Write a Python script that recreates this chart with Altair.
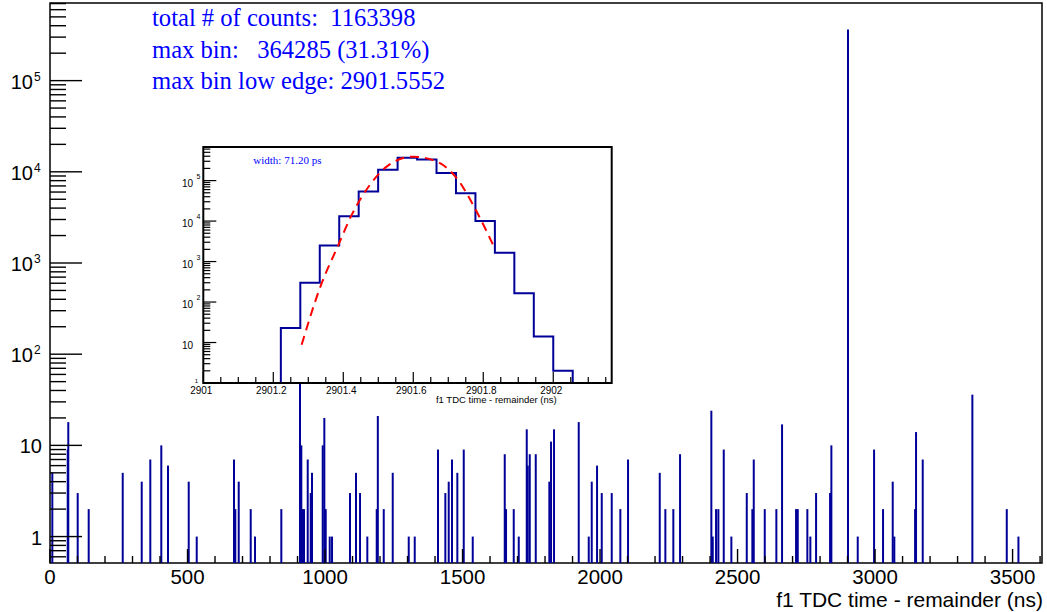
import altair as alt
import pandas as pd

# ---------------- main histogram (non-empty bins) ----------------
spike_ns = [8.4, 64.4, 66.5, 100.7, 140.7, 264.4, 333.5, 364.7, 404.7, 429.1, 504.4, 533.5,
            669.1, 673.8, 686.2, 729.8, 745.5, 841.1, 909.1, 913.8, 918.9, 923.6, 937.1, 948.0, 952.7,
            991.6, 997.5, 1002.5, 1017.1, 1025.5, 1090.9, 1112.7, 1127.3, 1153.8, 1188.0, 1192.0,
            1213.5, 1246.2, 1304.4, 1326.2, 1410.9, 1437.5, 1449.8, 1461.8, 1481.1, 1504.4, 1537.1,
            1653.5, 1658.2, 1686.2, 1704.4, 1733.5, 1737.1, 1744.4, 1766.2, 1815.6, 1821.8, 1832.7,
            1922.5, 1958.9, 1969.8, 1989.1, 2006.2, 2042.5, 2073.8, 2101.8, 2217.1, 2237.5, 2266.5,
            2290.9, 2404.7, 2409.8, 2421.8, 2430.2, 2449.8, 2477.5, 2533.5, 2553.8, 2558.9, 2598.9,
            2641.1, 2661.8, 2712.7, 2718.9, 2753.8, 2764.7, 2785.5, 2836.4, 2841.1, 2901.56, 2937.0,
            2996.4, 3029.0, 3064.2, 3070.0, 3145.5, 3149.0, 3173.3, 3353.8, 3478.9, 3521.3]
spike_counts = [5, 9, 18, 3, 2, 5, 4, 7, 10, 6, 4, 1,
                7, 2, 4, 2, 1, 2, 300, 10, 2, 2, 7, 3, 5,
                10, 20, 2, 1, 1, 3, 5, 3, 1, 2, 21,
                2, 5, 1, 1, 9, 3, 4, 7, 5, 9, 1,
                8, 2, 2, 1, 15, 6, 8, 8, 4, 11, 15,
                18, 1, 4, 6, 3, 3, 2, 7, 5, 2, 2,
                8, 24, 1, 2, 2, 9, 1, 3, 2, 7, 2,
                2, 17, 2, 2, 2, 1, 3, 3, 10, 364285, 1,
                9, 2, 4, 1, 2, 14, 7, 36, 2, 1]
assert len(spike_ns) == len(spike_counts)

x_major = [0, 500, 1000, 1500, 2000, 2500, 3000, 3500]
x_labels = ["0", "500", "1000", "1500", "2000", "2500", "3000", "3500"]
x_minor = [v for v in range(100, 3601, 100) if v % 500 != 0]
x_title = "f1 TDC time - remainder (ns)"
y_major = [1, 10, 100, 1000, 10000, 100000]
y_minor = [0.6, 0.7, 0.8, 0.9] + [m * 10 ** k for k in range(0, 6) for m in range(2, 10) if m * 10 ** k <= 700000]
y_lab_base = ["1", "10", "10", "10", "10", "10"]
y_lab_exp = ["", "", "2", "3", "4", "5"]

stats_lines = ["total # of counts:\u00a0\u00a01163398",
               "max bin:\u00a0\u00a0\u00a0364285 (31.31%)",
               "max bin low edge: 2901.5552"]

# ---------------- inset: zoom on the peak ----------------
inset_edges = [2901.2216, 2901.2772, 2901.3328, 2901.3884, 2901.4440, 2901.4996, 2901.5552,
               2901.6108, 2901.6664, 2901.7220, 2901.7776, 2901.8332, 2901.8888, 2901.9444,
               2902.0000, 2902.0556]
inset_counts = [23, 300, 2480, 13200, 53500, 185000, 364285, 330000, 155000, 49000,
                10100, 1640, 166, 14, 2]
fit_ns = [2901.281, 2901.333, 2901.386, 2901.424, 2901.476, 2901.524, 2901.600,
          2901.667, 2901.724, 2901.781, 2901.829]
fit_counts = [8.8, 220, 2580, 14200, 78300, 222000, 390000, 295000, 115000, 17200, 2480]
ix_major = [2901.0, 2901.2, 2901.4, 2901.6, 2901.8, 2902.0]
ix_labels = ["2901", "2901.2", "2901.4", "2901.6", "2901.8", "2902"]
ix_minor = [2901.05, 2901.1, 2901.15, 2901.25, 2901.3, 2901.35, 2901.45, 2901.5, 2901.55,
            2901.65, 2901.7, 2901.75, 2901.85, 2901.9, 2901.95, 2902.05, 2902.1, 2902.15]
iy_major = [10, 100, 1000, 10000, 100000]
iy_minor = [m * 10 ** k for k in range(0, 6) for m in range(2, 10) if m * 10 ** k <= 650000]
iy_lab_exp = ["", "2", "3", "4", "5"]

BLUE = "#000099"
TXT_BLUE = "#0000ff"
W, H = 992, 560
SANS = "Liberation Sans"
SERIF = "Liberation Serif"

xs = alt.Scale(domain=[0, 3607], nice=False, zero=False)
ys = alt.Scale(type="log", domain=[0.513, 710000], nice=False)

df_sp = pd.DataFrame({"t": spike_ns, "v": spike_counts})
one = pd.DataFrame({"a": [0]})

spikes = alt.Chart(df_sp).mark_rule(color=BLUE, strokeWidth=2).encode(
    x=alt.X("t:Q", scale=xs, axis=None),
    y=alt.Y("v:Q", scale=ys, axis=None),
    y2=alt.value(H),
)

def xticks(vals, length):
    return alt.Chart(pd.DataFrame({"t": vals})).mark_rule(color="black", strokeWidth=1.4).encode(
        x=alt.X("t:Q", scale=xs, axis=None), y=alt.value(H), y2=alt.value(H - length))

def yticks(vals, length):
    return alt.Chart(pd.DataFrame({"t": vals})).mark_rule(color="black", strokeWidth=1.4).encode(
        y=alt.Y("t:Q", scale=ys, axis=None), x=alt.value(0), x2=alt.value(length))

xlab = alt.Chart(pd.DataFrame({"t": x_major, "lab": x_labels})).mark_text(
    align="center", baseline="alphabetic", font=SANS, fontSize=20.5, color="black").encode(
    x=alt.X("t:Q", scale=xs, axis=None), y=alt.value(H + 21), text="lab:N")
xtitle = alt.Chart(one).mark_text(text=x_title, align="right", baseline="alphabetic",
                                  font=SANS, fontSize=21, color="black").encode(
    x=alt.value(W + 1), y=alt.value(H + 44))

df_ylab = pd.DataFrame({"t": y_major, "base": y_lab_base, "exp": y_lab_exp})
ylab_plain = alt.Chart(df_ylab).transform_filter("datum.exp == ''").mark_text(
    align="right", baseline="middle", font=SANS, fontSize=20, color="black", dy=2).encode(
    y=alt.Y("t:Q", scale=ys, axis=None), x=alt.value(-8), text="base:N")
ylab_base = alt.Chart(df_ylab).transform_filter("datum.exp != ''").mark_text(
    align="right", baseline="middle", font=SANS, fontSize=20, color="black", dy=2).encode(
    y=alt.Y("t:Q", scale=ys, axis=None), x=alt.value(-17), text="base:N")
ylab_exp = alt.Chart(df_ylab).transform_filter("datum.exp != ''").mark_text(
    align="left", baseline="middle", font=SANS, fontSize=12, color="black", dy=-4).encode(
    y=alt.Y("t:Q", scale=ys, axis=None), x=alt.value(-16), text="exp:N")

stats = alt.Chart(one).mark_text(text=stats_lines, align="left", baseline="alphabetic",
                                 font=SERIF, fontSize=24.6, color=TXT_BLUE, lineHeight=31.5).encode(
    x=alt.value(102), y=alt.value(23))

main = alt.layer(spikes, xticks(x_major, 14), xticks(x_minor, 7), yticks(y_major, 32),
                 yticks(y_minor, 16), xlab, xtitle, ylab_plain, ylab_base, ylab_exp, stats)

# ---------------- inset ----------------
IX0, IX1, IY0, IY1 = 153.3, 561.7, 144, 380
ixs = alt.Scale(domain=[2901.0, 2902.167], range=[IX0, IX1], nice=False, zero=False)
iys = alt.Scale(type="log", domain=[1, 676000], range=[IY1, IY0], nice=False)

step_x, step_y = [inset_edges[0]], [1]
for i, c in enumerate(inset_counts):
    step_x += [inset_edges[i], inset_edges[i + 1]]
    step_y += [c, c]
step_x.append(inset_edges[-1])
step_y.append(1)
df_step = pd.DataFrame({"x": step_x, "y": step_y, "i": list(range(len(step_x)))})
df_fit = pd.DataFrame({"x": fit_ns, "y": fit_counts})

inset_bg = alt.Chart(one).mark_rect(fill="white").encode(
    x=alt.value(IX0), x2=alt.value(IX1), y=alt.value(IY0), y2=alt.value(IY1))
inset_hist = alt.Chart(df_step).mark_line(color=BLUE, strokeWidth=2).encode(
    x=alt.X("x:Q", scale=ixs, axis=None), y=alt.Y("y:Q", scale=iys, axis=None), order="i:Q")
inset_fit = alt.Chart(df_fit).mark_line(color="red", strokeWidth=2, strokeDash=[9, 6],
                                        interpolate="monotone").encode(
    x=alt.X("x:Q", scale=ixs, axis=None), y=alt.Y("y:Q", scale=iys, axis=None))
inset_frame = alt.Chart(one).mark_rect(fill=None, stroke="black", strokeWidth=2).encode(
    x=alt.value(IX0), x2=alt.value(IX1), y=alt.value(IY0), y2=alt.value(IY1))

def ixticks(vals, length):
    return alt.Chart(pd.DataFrame({"t": vals})).mark_rule(color="black", strokeWidth=1.2).encode(
        x=alt.X("t:Q", scale=ixs, axis=None), y=alt.value(IY1), y2=alt.value(IY1 - length))

def iyticks(vals, length):
    return alt.Chart(pd.DataFrame({"t": vals})).mark_rule(color="black", strokeWidth=1.2).encode(
        y=alt.Y("t:Q", scale=iys, axis=None), x=alt.value(IX0), x2=alt.value(IX0 + length))

ixlab = alt.Chart(pd.DataFrame({"t": ix_major, "lab": ix_labels})).mark_text(
    align="center", baseline="alphabetic", font=SANS, fontSize=10, color="black", dx=-2).encode(
    x=alt.X("t:Q", scale=ixs, axis=None), y=alt.value(390.5), text="lab:N")
df_iylab = pd.DataFrame({"t": iy_major, "exp": iy_lab_exp})
iylab_base = alt.Chart(df_iylab).mark_text(
    align="right", baseline="middle", font=SANS, fontSize=10, color="black", dy=3).encode(
    y=alt.Y("t:Q", scale=iys, axis=None), x=alt.value(143), text=alt.value("10"))
iylab_exp = alt.Chart(df_iylab).transform_filter("datum.exp != ''").mark_text(
    align="left", baseline="middle", font=SANS, fontSize=7, color="black", dy=-4).encode(
    y=alt.Y("t:Q", scale=iys, axis=None), x=alt.value(146.5), text="exp:N")
iylab_one = alt.Chart(pd.DataFrame({"t": [1]})).mark_text(
    align="right", baseline="middle", font=SANS, fontSize=6, color="black", dy=-2).encode(
    y=alt.Y("t:Q", scale=iys, axis=None), x=alt.value(148), text=alt.value("1"))
ititle = alt.Chart(one).mark_text(text=x_title, align="right",
                                  baseline="alphabetic", font=SANS, fontSize=9.5, color="black").encode(
    x=alt.value(506.7), y=alt.value(400.3))
iwidth = alt.Chart(one).mark_text(text="width: 71.20 ps", align="left", baseline="alphabetic",
                                  font=SERIF, fontSize=11, color=TXT_BLUE).encode(
    x=alt.value(203.3), y=alt.value(161.3))

inset = alt.layer(inset_bg, inset_hist, inset_fit, ixticks(ix_major, 11), ixticks(ix_minor, 6),
                  iyticks(iy_major, 13), iyticks(iy_minor, 7), inset_frame, ixlab,
                  iylab_base, iylab_exp, iylab_one, ititle, iwidth)

chart = alt.layer(main, inset).resolve_scale(x="independent", y="independent").properties(
    width=W, height=H,
    autosize=alt.AutoSizeParams(type="none"),
    padding={"left": 50, "top": 3, "right": 5, "bottom": 49},
    background="white",
).configure_view(stroke="black", strokeWidth=1.5)

chart.save("out.html", embed_options={"renderer": "svg", "actions": False})
